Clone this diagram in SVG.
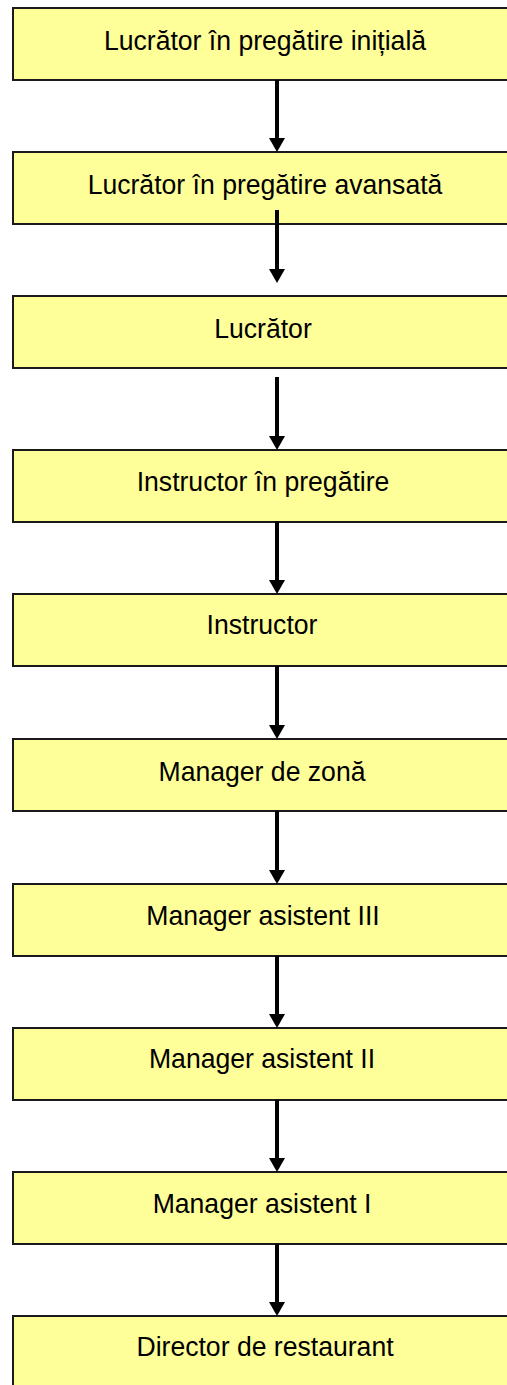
<svg xmlns="http://www.w3.org/2000/svg" width="507" height="1385" viewBox="0 0 507 1385">
<style>
.box{fill:#ffff99;stroke:#1a1a1a;stroke-width:2}
.lbl{font-family:"Liberation Sans",Arial,sans-serif;font-size:26.6px;fill:#000;text-anchor:middle}
.con{stroke:#000;stroke-width:4;fill:none;marker-end:url(#ah)}
</style>
<defs>
<marker id="ah" markerUnits="userSpaceOnUse" markerWidth="14" markerHeight="16" viewBox="0 0 14 16" refX="3" refY="8" orient="auto">
<path d="M0,0 L14,8 L0,16 z" fill="#000"/>
</marker>
</defs>
<rect width="507" height="1385" fill="#fff"/>
<g id="n1"><rect class="box" x="13" y="8" width="540" height="72"/><text class="lbl" transform="translate(265,50) scale(1,1.07)">Lucrător în pregătire inițială</text></g>
<g id="n2"><rect class="box" x="13" y="152" width="540" height="72"/><text class="lbl" transform="translate(265,194) scale(1,1.07)">Lucrător în pregătire avansată</text></g>
<g id="n3"><rect class="box" x="13" y="296" width="540" height="72"/><text class="lbl" transform="translate(263,338) scale(1,1.07)">Lucrător</text></g>
<g id="n4"><rect class="box" x="13" y="450" width="540" height="72"/><text class="lbl" transform="translate(263,491) scale(1,1.07)">Instructor în pregătire</text></g>
<g id="n5"><rect class="box" x="13" y="594" width="540" height="72"/><text class="lbl" transform="translate(262,634) scale(1,1.07)">Instructor</text></g>
<g id="n6"><rect class="box" x="13" y="739" width="540" height="72"/><text class="lbl" transform="translate(262,781) scale(1,1.07)">Manager de zonă</text></g>
<g id="n7"><rect class="box" x="13" y="884" width="540" height="72"/><text class="lbl" transform="translate(263,925) scale(1,1.07)">Manager asistent III</text></g>
<g id="n8"><rect class="box" x="13" y="1028" width="540" height="72"/><text class="lbl" transform="translate(262,1068) scale(1,1.07)">Manager asistent II</text></g>
<g id="n9"><rect class="box" x="13" y="1172" width="540" height="72"/><text class="lbl" transform="translate(262,1213) scale(1,1.07)">Manager asistent I</text></g>
<g id="n10"><rect class="box" x="13" y="1316" width="540" height="80"/><text class="lbl" transform="translate(265,1356) scale(1,1.07)">Director de restaurant</text></g>
<g id="connectors">
<line class="con" x1="277" y1="80" x2="277" y2="141"/>
<line class="con" x1="277" y1="210" x2="277" y2="272"/>
<line class="con" x1="277" y1="377" x2="277" y2="439"/>
<line class="con" x1="277" y1="521" x2="277" y2="583"/>
<line class="con" x1="277" y1="666" x2="277" y2="728"/>
<line class="con" x1="277" y1="811" x2="277" y2="873"/>
<line class="con" x1="277" y1="956" x2="277" y2="1017"/>
<line class="con" x1="277" y1="1100" x2="277" y2="1161"/>
<line class="con" x1="277" y1="1244" x2="277" y2="1305"/>
</g>
</svg>
